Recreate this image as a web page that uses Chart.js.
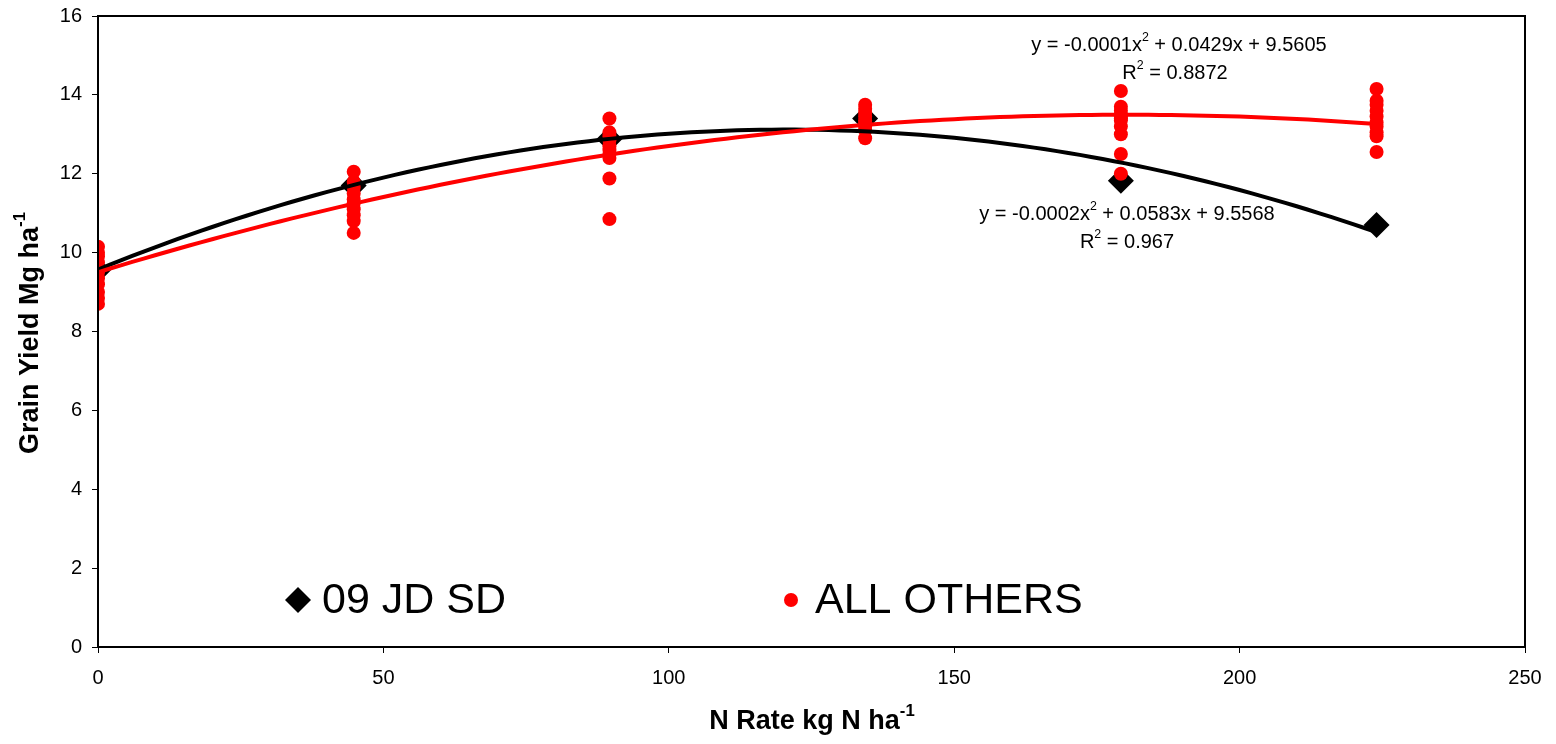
<!DOCTYPE html>
<html>
<head>
<meta charset="utf-8">
<script src="https://cdn.jsdelivr.net/npm/chart.js@4"></script>
<style>
  html, body { margin: 0; padding: 0; background: #fff; }
  #wrap { width: 1556px; height: 744px; }
</style>
</head>
<body>
<div id="wrap"><canvas id="yieldChart" width="1556" height="744"></canvas></div>
<script>
// N rates (kg N/ha)
const nRates = [0, 44.8, 89.6, 134.4, 179.2, 224];
// 09 JD SD site yield (Mg/ha)
const jdYield = [9.55, 11.7, 12.88, 13.4, 11.82, 10.7];
// all other sites, one list per N rate
const othersYield = [
  [10.15, 10.0, 9.9, 9.75, 9.6, 9.5, 9.35, 9.2, 9.0, 8.85, 8.7],
  [12.05, 11.8, 11.65, 11.5, 11.35, 11.25, 11.1, 10.95, 10.8, 10.5],
  [13.4, 13.05, 12.95, 12.85, 12.7, 12.6, 12.5, 12.4, 11.88, 10.85],
  [13.75, 13.65, 13.55, 13.45, 13.35, 13.3, 13.2, 13.1, 12.9],
  [14.1, 13.7, 13.6, 13.5, 13.45, 13.4, 13.35, 13.2, 13.0, 12.5, 12.0],
  [14.15, 13.85, 13.75, 13.6, 13.45, 13.3, 13.2, 13.05, 12.95, 12.55]
];
const xTicks = [0, 50, 100, 150, 200, 250];
const yTicks = [0, 2, 4, 6, 8, 10, 12, 14, 16];

const jdPoints = nRates.map((x, i) => ({ x: x, y: jdYield[i] }));
const otherPoints = [];
nRates.forEach((x, i) => othersYield[i].forEach(y => otherPoints.push({ x: x, y: y })));

// quadratic least squares (like the excel trendline)
function polyfit2(pts) {
  let s = [0, 0, 0, 0, 0], t = [0, 0, 0];
  pts.forEach(p => {
    let xp = 1;
    for (let k = 0; k < 5; k++) { s[k] += xp; if (k < 3) t[k] += xp * p.y; xp *= p.x; }
  });
  const A = [[s[0], s[1], s[2], t[0]], [s[1], s[2], s[3], t[1]], [s[2], s[3], s[4], t[2]]];
  for (let i = 0; i < 3; i++) {
    for (let j = i + 1; j < 3; j++) {
      const f = A[j][i] / A[i][i];
      for (let k = i; k < 4; k++) A[j][k] -= f * A[i][k];
    }
  }
  const c = [0, 0, 0];
  for (let i = 2; i >= 0; i--) {
    let v = A[i][3];
    for (let k = i + 1; k < 3; k++) v -= A[i][k] * c[k];
    c[i] = v / A[i][i];
  }
  return c; // c0 + c1 x + c2 x^2
}
function trendLine(pts) {
  const c = polyfit2(pts);
  const out = [];
  for (let x = 0; x <= 224; x += 2) out.push({ x: x, y: c[0] + c[1] * x + c[2] * x * x });
  return out;
}

// text with superscript parts, centred on cx
function drawRich(ctx, parts, cx, cy, size, bold) {
  const f = (s) => (bold ? 'bold ' : '') + s + 'px Arial, "Liberation Sans", sans-serif';
  let w = 0;
  parts.forEach(p => { ctx.font = f(p.sup ? size * 0.62 : size); w += ctx.measureText(p.t).width; });
  let x = cx - w / 2;
  ctx.textBaseline = 'middle';
  ctx.textAlign = 'left';
  parts.forEach(p => {
    ctx.font = f(p.sup ? size * 0.62 : size);
    ctx.fillText(p.t, x, p.sup ? cy - size * 0.38 : cy);
    x += ctx.measureText(p.t).width;
  });
}

const extras = {
  id: 'extras',
  afterDraw(chart) {
    const ctx = chart.ctx;
    const a = chart.chartArea;
    ctx.save();
    // frame
    ctx.strokeStyle = '#000';
    ctx.lineWidth = 2;
    ctx.strokeRect(a.left, a.top, a.right - a.left, a.bottom - a.top);
    ctx.fillStyle = '#000';
    // trendline equations
    drawRich(ctx, [{ t: 'y = -0.0001x' }, { t: '2', sup: true }, { t: ' + 0.0429x + 9.5605' }], 1179, 45, 20);
    drawRich(ctx, [{ t: 'R' }, { t: '2', sup: true }, { t: ' = 0.8872' }], 1175, 73, 20);
    drawRich(ctx, [{ t: 'y = -0.0002x' }, { t: '2', sup: true }, { t: ' + 0.0583x + 9.5568' }], 1127, 214, 20);
    drawRich(ctx, [{ t: 'R' }, { t: '2', sup: true }, { t: ' = 0.967' }], 1127, 242, 20);
    // axis titles
    drawRich(ctx, [{ t: 'N Rate kg N ha' }, { t: '-1', sup: true }], 812, 722, 27, true);
    ctx.save();
    ctx.translate(31, 333);
    ctx.rotate(-Math.PI / 2);
    drawRich(ctx, [{ t: 'Grain Yield Mg ha' }, { t: '-1', sup: true }], 0, 0, 27, true);
    ctx.restore();
    // legend inside plot
    ctx.beginPath();
    ctx.moveTo(298, 587); ctx.lineTo(311, 600); ctx.lineTo(298, 613); ctx.lineTo(285, 600);
    ctx.closePath();
    ctx.fill();
    ctx.font = '43px Arial, "Liberation Sans", sans-serif';
    ctx.textBaseline = 'middle';
    ctx.textAlign = 'left';
    ctx.fillText('09 JD SD', 322, 601);
    ctx.fillStyle = '#ff0000';
    ctx.beginPath();
    ctx.arc(791, 600, 7, 0, Math.PI * 2);
    ctx.fill();
    ctx.fillStyle = '#000';
    ctx.fillText('ALL OTHERS', 815, 601);
    ctx.restore();
  }
};

const ctx1 = document.getElementById('yieldChart').getContext('2d');
const yieldChart = new Chart(ctx1, {
  type: 'scatter',
  data: {
    datasets: [
      {
        label: 'ALL OTHERS trend',
        type: 'line',
        data: trendLine(otherPoints),
        borderColor: '#ff0000',
        borderWidth: 4,
        pointRadius: 0,
        fill: false,
        order: 0
      },
      {
        label: '09 JD SD trend',
        type: 'line',
        data: trendLine(jdPoints),
        borderColor: '#000000',
        borderWidth: 4,
        pointRadius: 0,
        fill: false,
        order: 1
      },
      {
        label: 'ALL OTHERS',
        data: otherPoints,
        pointStyle: 'circle',
        pointRadius: 7,
        backgroundColor: '#ff0000',
        borderColor: '#ff0000',
        borderWidth: 0,
        order: 2
      },
      {
        label: '09 JD SD',
        data: jdPoints,
        pointStyle: 'rectRot',
        pointRadius: 13,
        backgroundColor: '#000000',
        borderColor: '#000000',
        borderWidth: 0,
        order: 3
      }
    ]
  },
  options: {
    responsive: false,
    animation: false,
    layout: { padding: { top: 16, right: 31, left: 0, bottom: 0 } },
    plugins: {
      legend: { display: false },
      tooltip: { enabled: false }
    },
    scales: {
      x: {
        type: 'linear',
        min: 0,
        max: 250,
        afterBuildTicks: (s) => { s.ticks = xTicks.map(v => ({ value: v })); },
        afterFit: (s) => { s.height = 97; s.paddingLeft = 0; s.paddingRight = 0; },
        ticks: { color: '#000', font: { size: 20, family: 'Arial, "Liberation Sans", sans-serif' }, padding: 13, maxRotation: 0 },
        grid: { drawOnChartArea: false, drawTicks: true, tickLength: 6, color: '#000', lineWidth: 1 },
        border: { display: true, color: '#000', width: 2 }
      },
      y: {
        min: 0,
        max: 16,
        afterBuildTicks: (s) => { s.ticks = yTicks.map(v => ({ value: v })); },
        afterFit: (s) => { s.width = 98; s.paddingTop = 0; s.paddingBottom = 0; },
        ticks: { color: '#000', font: { size: 20, family: 'Arial, "Liberation Sans", sans-serif' }, padding: 10 },
        grid: { drawOnChartArea: false, drawTicks: true, tickLength: 6, color: '#000', lineWidth: 1 },
        border: { display: true, color: '#000', width: 2 }
      }
    }
  },
  plugins: [extras]
});
</script>
</body>
</html>
